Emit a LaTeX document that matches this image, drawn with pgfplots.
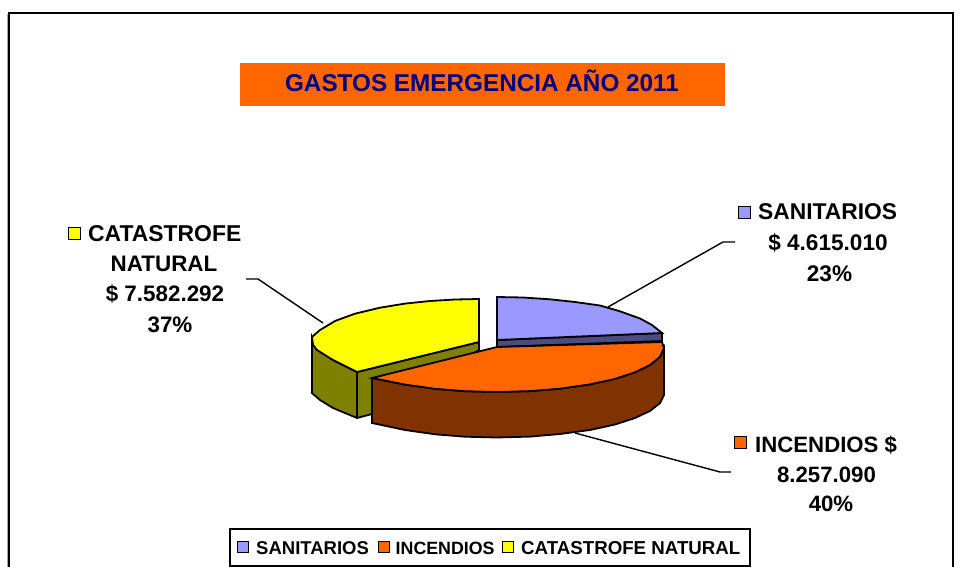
\documentclass[border=0pt]{standalone}
\usepackage{pgfplots}
\pgfplotsset{compat=1.18}
\usepackage{fontspec}
\setmainfont{Liberation Sans}
\definecolor{cBlue}{HTML}{9999FF}
\definecolor{cBlueS}{HTML}{4C4C80}
\definecolor{cOr}{HTML}{FF6600}
\definecolor{cOrS}{HTML}{803300}
\definecolor{cYe}{HTML}{FFFF00}
\definecolor{cYeS}{HTML}{808000}
\definecolor{cNavy}{HTML}{000080}
\newcommand{\lab}[1]{\fontsize{#1}{#1}\selectfont\bfseries}
\begin{document}
\begin{tikzpicture}
\begin{axis}[
  width=962pt,height=567pt,scale only axis,
  xmin=0,xmax=962,ymin=0,ymax=567,y dir=reverse,
  axis lines=none,
]
% page background (fixes the picture's extent)
\addplot[forget plot,fill=white,draw=none] coordinates {(0,0)(962,0)(962,567)(0,567)} -- cycle;
% frame
\addplot[forget plot,draw=gray!70,line width=1pt] coordinates {(7,567)(7,14)};
\addplot[forget plot,draw=black,line width=2pt] coordinates {(8.7,567)(8.7,13)(952.5,13)(952.5,567)};
% title band
\addplot[forget plot,fill=cOr,draw=none] coordinates {(240,63)(725,63)(725,106)(240,106)} -- cycle;
% leaders
\addplot[forget plot,draw=black,line width=1.4pt] coordinates {(608,307)(723,242)(735,242)};
\addplot[forget plot,draw=black,line width=1.4pt] coordinates {(323,323)(258,279)(246,279)};
\addplot[forget plot,draw=black,line width=1.4pt] coordinates {(575,433)(720,472)(731,472)};
% yellow side
\addplot[forget plot,fill=cYeS,draw=black,line width=1.8pt] coordinates {(312,337)(312,393)(320,400)(333,408)(345,413)(357,418)(372,414)(479,350)(479,342)(357,372)(333,360)(317,348)} -- cycle;
\addplot[forget plot,draw=black,line width=1.8pt] coordinates {(357,372)(357,418)};
% yellow top
\addplot[forget plot,fill=cYe,draw=black,line width=1.8pt] coordinates {(479,299)(455,299.5)(430,301)(405,303.6)(380,307.7)(355,313.7)(335,321)(320,330)(312,337)(313,345)(317,350)(325,355)(333,360)(345,366)(357,372)(479,342)} -- cycle;
% blue side
\addplot[forget plot,fill=cBlueS,draw=black,line width=1.8pt] coordinates {(497,340)(662,333)(662,341)(497,347)} -- cycle;
% blue top
\addplot[forget plot,fill=cBlue,draw=black,line width=1.8pt] coordinates {(497,297)(523,297.5)(550,299.3)(575,302)(600,305.5)(620,311.3)(640,318.5)(652,325)(662,333)(497,340)} -- cycle;
% orange side
\addplot[forget plot,fill=cOrS,draw=black,line width=1.8pt] coordinates {(372,378)(372,423)(405,430)(435,434.3)(465,436.7)(497,437.5)(530,436.6)(560,434)(590,430)(615,424.5)(635,418)(650,411)(660,403)(664,395)(664,348)(660,356.8)(650,365)(635,372.3)(615,378.9)(590,384.4)(560,388.7)(530,391.1)(497,392)(465,391.2)(435,388.8)(405,384.6)} -- cycle;
% orange top
\addplot[forget plot,fill=cOr,draw=black,line width=1.8pt] coordinates {(497,347)(662,342)(664,348)(660,356.8)(650,365)(635,372.3)(615,378.9)(590,384.4)(560,388.7)(530,391.1)(497,392)(465,391.2)(435,388.8)(405,384.6)(372,378)} -- cycle;
% data-label keys
\addplot[forget plot,only marks,mark=square*,mark size=6pt,mark options={fill=cBlue,draw=black,line width=1.4pt}] coordinates {(744.5,212.5)};
\addplot[forget plot,only marks,mark=square*,mark size=6pt,mark options={fill=cOr,draw=black,line width=1.4pt}] coordinates {(740.5,442.5)};
\addplot[forget plot,only marks,mark=square*,mark size=6pt,mark options={fill=cYe,draw=black,line width=1.4pt}] coordinates {(74.5,233.5)};
% legend box and keys
\addplot[forget plot,fill=white,draw=black,line width=1.4pt] coordinates {(230,529)(750,529)(750,566)(230,566)} -- cycle;
\addplot[forget plot,only marks,mark=square*,mark size=5.5pt,mark options={fill=cBlue,draw=black,line width=1.3pt}] coordinates {(243,547)};
\addplot[forget plot,only marks,mark=square*,mark size=5.5pt,mark options={fill=cOr,draw=black,line width=1.3pt}] coordinates {(384,547)};
\addplot[forget plot,only marks,mark=square*,mark size=5.5pt,mark options={fill=cYe,draw=black,line width=1.3pt}] coordinates {(508,547)};
% texts
\node[anchor=base,text=cNavy,font=\lab{24.3},inner sep=0pt] at (axis cs:482,92) {GASTOS EMERGENCIA AÑO 2011};
\node[anchor=base west,font=\lab{22.8},inner sep=0pt] at (axis cs:758,220) {SANITARIOS};
\node[anchor=base,font=\lab{22.6},inner sep=0pt] at (axis cs:828,251) {\$ 4.615.010};
\node[anchor=base,font=\lab{22.6},inner sep=0pt] at (axis cs:829.5,281) {23\%};
\node[anchor=base west,font=\lab{22.2},inner sep=0pt] at (axis cs:755,452) {INCENDIOS \$};
\node[anchor=base,font=\lab{22.2},inner sep=0pt] at (axis cs:826.5,482) {8.257.090};
\node[anchor=base,font=\lab{22.2},inner sep=0pt] at (axis cs:831,511) {40\%};
\node[anchor=base west,font=\lab{22.9},inner sep=0pt] at (axis cs:88,241) {CATASTROFE};
\node[anchor=base,font=\lab{22.4},inner sep=0pt] at (axis cs:164,271) {NATURAL};
\node[anchor=base,font=\lab{22.4},inner sep=0pt] at (axis cs:165,301) {\$ 7.582.292};
\node[anchor=base,font=\lab{22.4},inner sep=0pt] at (axis cs:170,332) {37\%};
\node[anchor=base west,font=\lab{18.5},inner sep=0pt] at (axis cs:256,554) {SANITARIOS};
\node[anchor=base west,font=\lab{17.8},inner sep=0pt] at (axis cs:395.5,554) {INCENDIOS};
\node[anchor=base west,font=\lab{18.7},inner sep=0pt] at (axis cs:521,554) {CATASTROFE NATURAL};
\end{axis}
\end{tikzpicture}
\end{document}
